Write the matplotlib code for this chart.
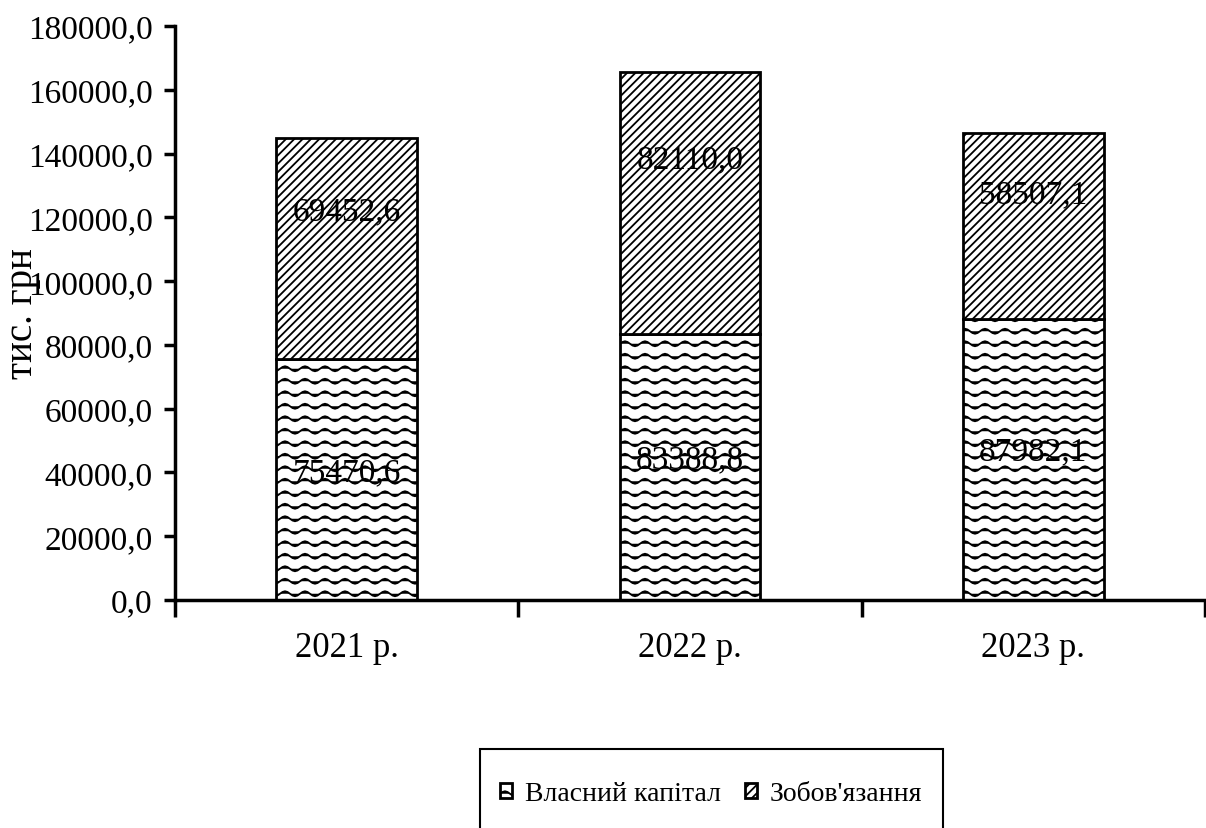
import matplotlib
matplotlib.use('Agg')
import matplotlib.pyplot as plt
import matplotlib.hatch as mhatch
from matplotlib.path import Path
from matplotlib.patches import Rectangle
from matplotlib.ticker import FuncFormatter, FixedLocator
import numpy as np


# wavy hatch '~' (not in matplotlib, so add it)
class WavyHatch(mhatch.HatchPatternBase):
    def __init__(self, hatch, density):
        self.rows = hatch.count('~') * 8
        self.npts = 41
        self.num_vertices = self.rows * self.npts

    def set_vertices_and_codes(self, vertices, codes):
        xs = np.linspace(0, 1, self.npts)
        k = 0
        for r in range(self.rows):
            y0 = (r + 0.5) / self.rows
            ys = y0 + 0.025 * np.sin(xs * 2 * np.pi * 5)
            vertices[k:k + self.npts, 0] = xs
            vertices[k:k + self.npts, 1] = ys
            codes[k] = Path.MOVETO
            codes[k + 1:k + self.npts] = Path.LINETO
            k += self.npts


mhatch._hatch_types.append(WavyHatch)

plt.rcParams['font.family'] = ['Liberation Serif', 'DejaVu Serif']
plt.rcParams['hatch.linewidth'] = 1.3

years = ['2021 р.', '2022 р.', '2023 р.']
equity = [75470.6, 83388.8, 87982.1]
liabilities = [69452.6, 82110.0, 58507.1]
names = ['Власний капітал', "Зобов'язання"]

fig = plt.figure(figsize=(12.06, 8.29), dpi=100)
ax = fig.add_axes([0.1451, 0.275, 0.854, 0.6925])

x = np.arange(len(years))
w = 0.41
b1 = ax.bar(x, equity, w, color='white', edgecolor='black', linewidth=2, hatch='~', label=names[0])
b2 = ax.bar(x, liabilities, w, bottom=equity, color='white', edgecolor='black', linewidth=2,
            hatch='////', label=names[1])

for i in range(len(years)):
    ax.text(x[i], equity[i] * 0.53, f'{equity[i]:.1f}'.replace('.', ','),
            ha='center', va='center', fontsize=24)
    ax.text(x[i], equity[i] + liabilities[i] * 0.67, f'{liabilities[i]:.1f}'.replace('.', ','),
            ha='center', va='center', fontsize=24)

ax.set_xlim(-0.5, 2.5)
ax.set_ylim(0, 180000)
ax.set_yticks(np.arange(0, 180001, 20000))
ax.yaxis.set_major_formatter(FuncFormatter(lambda v, p: f'{v:.1f}'.replace('.', ',')))

ax.xaxis.set_major_locator(FixedLocator([-0.5, 0.5, 1.5, 2.5]))
ax.xaxis.set_major_formatter(FuncFormatter(lambda v, p: ''))
ax.xaxis.set_minor_locator(FixedLocator(x))
ax.set_xticklabels(years, minor=True)
ax.tick_params(axis='x', which='minor', length=0, pad=22, labelsize=25)
ax.tick_params(axis='x', which='major', length=12, width=2.5, direction='out')
ax.tick_params(axis='y', length=8, width=2.5, direction='out', pad=8, labelsize=24)

for s in ['top', 'right']:
    ax.spines[s].set_visible(False)
for s in ['left', 'bottom']:
    ax.spines[s].set_linewidth(2.5)

ax.set_ylabel('тис. грн', fontsize=28)
ax.yaxis.set_label_coords(-0.13, 0.5)

# legend without its own frame; the box runs off the bottom edge like in the source
leg = fig.legend(loc='center', bbox_to_anchor=(711 / 1206, 1 - 795 / 829), ncol=2,
                 fontsize=20, frameon=False, borderaxespad=0,
                 handlelength=0.45, handleheight=0.45,
                 handletextpad=0.45, columnspacing=0.85)
fig.patches.append(Rectangle((480 / 1206, -0.05), 463 / 1206, 0.05 + 79 / 829,
                             transform=fig.transFigure, fill=False, lw=1.5, ec='black'))

plt.savefig('out.png', dpi=100)
